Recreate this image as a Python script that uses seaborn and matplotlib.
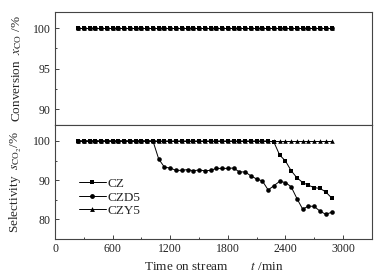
import matplotlib
matplotlib.use("Agg")
import matplotlib.pyplot as plt
import pandas as pd
import seaborn as sns
from matplotlib.ticker import MultipleLocator
from matplotlib.lines import Line2D

# time on stream, min (every 60 min from 240 to 2880)
t = list(range(240, 2881, 60))

conv_cz = [100.0] * len(t)
conv_czd5 = [100.0] * len(t)
conv_czy5 = [100.0] * len(t)

sel_cz = [100.0] * 34 + [
    99.7, 96.4, 94.9, 92.4, 90.6, 89.4, 88.7, 88.1, 87.9, 87.0, 85.5,
]
sel_czd5 = [100.0] * 14 + [
    95.4, 93.3, 93.1, 92.5, 92.5, 92.7, 92.4, 92.6, 92.4, 92.5,
    93.0, 93.0, 93.0, 93.1, 92.1, 92.1, 91.1, 90.3, 89.8, 87.5,
    88.6, 89.7, 89.4, 88.3, 85.3, 82.6, 83.4, 83.3, 82.1, 81.3, 81.8,
]
sel_czy5 = [100.0] * len(t)

names = ["CZ", "CZD5", "CZY5"]
markers = ["s", "o", "^"]

sns.set_style("ticks")
plt.rcParams["font.family"] = ["Liberation Serif", "DejaVu Serif"]
plt.rcParams["mathtext.fontset"] = "stix"

fig = plt.figure(figsize=(3.91, 2.79), dpi=100)
ax1 = fig.add_axes([0.1407, 0.551, 0.8103, 0.406])
ax2 = fig.add_axes([0.1407, 0.1434, 0.8103, 0.4076], sharex=ax1)

conv = pd.DataFrame({"t": t, "CZ": conv_cz, "CZD5": conv_czd5, "CZY5": conv_czy5})
sel = pd.DataFrame({"t": t, "CZ": sel_cz, "CZD5": sel_czd5, "CZY5": sel_czy5})

for name, m in zip(names[::-1], markers[::-1]):
    sns.lineplot(data=conv, x="t", y=name, ax=ax1, color="black", lw=0.7,
                 marker=m, markersize=3.3, markeredgewidth=0)
    sns.lineplot(data=sel, x="t", y=name, ax=ax2, color="black", lw=0.7,
                 marker=m, markersize=3.3, markeredgewidth=0)

ax1.set_ylim(88, 102)
ax1.yaxis.set_major_locator(MultipleLocator(5))
ax1.yaxis.set_minor_locator(MultipleLocator(2.5))
ax2.set_ylim(75, 104)
ax2.yaxis.set_major_locator(MultipleLocator(10))
ax2.yaxis.set_minor_locator(MultipleLocator(5))
ax2.set_xlim(0, 3300)
ax2.xaxis.set_major_locator(MultipleLocator(600))
ax2.xaxis.set_minor_locator(MultipleLocator(300))

for ax in (ax1, ax2):
    ax.tick_params(which="both", direction="in", top=False, right=False,
                   labelsize=8.5, colors="#222222", width=0.6, pad=3)
    ax.tick_params(which="major", length=3)
    ax.tick_params(which="minor", length=1.5)
    for s in ax.spines.values():
        s.set_linewidth(0.8)
        s.set_color("#444444")
ax1.tick_params(axis="x", which="both", bottom=False, labelbottom=False)

ax1.set_xlabel("")
ax1.set_ylabel(r"Conversion  $x_{\rm CO}$ /%", fontsize=9.5)
ax2.set_ylabel(r"Selectivity  $s_{\rm CO_2}$/%", fontsize=9.5)
ax2.set_xlabel(r"Time on stream       $t$ /min", fontsize=9.5)
ax1.yaxis.set_label_coords(-0.098, 0.5)
ax2.yaxis.set_label_coords(-0.098, 0.5)

handles = [Line2D([], [], color="black", lw=0.7, marker=m, markersize=3.5,
                  markeredgewidth=0) for m in markers]
ax2.legend(handles, names, loc="upper left", bbox_to_anchor=(0.06, 0.585),
           frameon=False, fontsize=9.5, handlelength=2.0, handletextpad=0.15,
           labelspacing=0.1, borderaxespad=0)

fig.savefig("out.png", dpi=100)
